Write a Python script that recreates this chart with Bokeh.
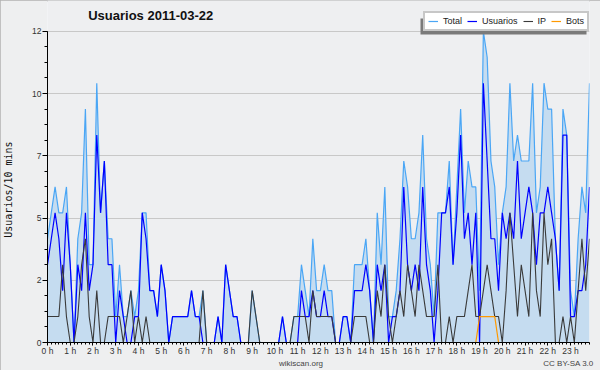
from bokeh.plotting import figure
from bokeh.models import (ColumnDataSource, FixedTicker, Label, Legend, LegendItem, Range1d,
                          LinearAxis, BoxAnnotation)
from bokeh.embed import file_html
from bokeh.resources import INLINE

# ---- data (one value per 10-minute slot, 144 slots) ----
hours = list(range(24))
hour_labels = [f"{h} h" for h in hours]

total = [
    4, 5, 6, 5, 5, 6,
    3, 0, 4, 5, 9, 3,
    3, 10, 5, 7, 4, 4,
    1, 3, 1, 1, 2, 1,
    2, 5, 5, 2, 2, 1,
    3, 2, 0, 1, 1, 1,
    1, 1, 2, 1, 1, 2,
    0, 0, 0, 1, 0, 3,
    2, 1, 1, 0, 0, 0,
    2, 1, 0, 0, 0, 0,
    0, 0, 1, 0, 0, 1,
    1, 3, 2, 1, 4, 2,
    2, 3, 2, 2, 0, 0,
    1, 1, 0, 3, 3, 3,
    4, 2, 0, 5, 3, 6,
    1, 1, 2, 4, 7, 6,
    4, 4, 5, 8, 4, 3,
    1, 5, 5, 5, 7, 3,
    6, 9, 5, 7, 6, 6,
    2, 12, 11, 7, 6, 3,
    5, 6, 10, 7, 8, 7,
    7, 7, 10, 5, 6, 10,
    9, 9, 4, 2, 9, 8,
    2, 1, 4, 6, 5, 10,
]
usuarios = [
    3, 4, 5, 4, 2, 5,
    3, 0, 3, 2, 5, 2,
    3, 8, 5, 7, 3, 3,
    0, 2, 1, 0, 0, 1,
    1, 5, 4, 2, 2, 1,
    3, 2, 0, 1, 1, 1,
    1, 1, 2, 1, 1, 0,
    0, 0, 0, 1, 0, 3,
    2, 1, 1, 0, 0, 0,
    0, 0, 0, 0, 0, 0,
    0, 0, 1, 0, 0, 0,
    0, 2, 1, 1, 2, 1,
    1, 2, 1, 1, 0, 0,
    1, 1, 0, 2, 2, 2,
    3, 2, 0, 3, 2, 3,
    0, 1, 1, 2, 6, 3,
    2, 3, 2, 6, 3, 2,
    0, 2, 5, 5, 6, 3,
    5, 8, 4, 5, 3, 5,
    0, 10, 7, 4, 4, 2,
    5, 4, 5, 4, 7, 4,
    5, 6, 5, 3, 5, 5,
    6, 5, 4, 2, 8, 8,
    1, 1, 2, 2, 3, 6,
]
ip = [
    1, 1, 1, 1, 3, 1,
    0, 0, 1, 3, 4, 1,
    0, 2, 0, 0, 1, 1,
    1, 1, 0, 1, 2, 0,
    1, 0, 1, 0, 0, 0,
    0, 0, 0, 0, 0, 0,
    0, 0, 0, 0, 0, 2,
    0, 0, 0, 0, 0, 0,
    0, 0, 0, 0, 0, 0,
    2, 1, 0, 0, 0, 0,
    0, 0, 0, 0, 0, 1,
    1, 1, 1, 0, 2, 1,
    1, 1, 1, 1, 0, 0,
    0, 0, 0, 1, 1, 1,
    1, 0, 0, 2, 1, 3,
    1, 0, 1, 2, 1, 3,
    2, 1, 3, 2, 1, 1,
    1, 3, 0, 0, 1, 0,
    1, 1, 1, 2, 3, 1,
    1, 2, 3, 2, 1, 1,
    0, 2, 5, 3, 1, 3,
    2, 1, 5, 2, 1, 5,
    3, 4, 0, 0, 1, 0,
    1, 0, 2, 4, 2, 4,
]
bots = [
    0, 0, 0, 0, 0, 0,
    0, 0, 0, 0, 0, 0,
    0, 0, 0, 0, 0, 0,
    0, 0, 0, 0, 0, 0,
    0, 0, 0, 0, 0, 0,
    0, 0, 0, 0, 0, 0,
    0, 0, 0, 0, 0, 0,
    0, 0, 0, 0, 0, 0,
    0, 0, 0, 0, 0, 0,
    0, 0, 0, 0, 0, 0,
    0, 0, 0, 0, 0, 0,
    0, 0, 0, 0, 0, 0,
    0, 0, 0, 0, 0, 0,
    0, 0, 0, 0, 0, 0,
    0, 0, 0, 0, 0, 0,
    0, 0, 0, 0, 0, 0,
    0, 0, 0, 0, 0, 0,
    0, 0, 0, 0, 0, 0,
    0, 0, 0, 0, 0, 0,
    1, 1, 1, 1, 1, 0,
    0, 0, 0, 0, 0, 0,
    0, 0, 0, 0, 0, 0,
    0, 0, 0, 0, 0, 0,
    0, 0, 0, 0, 0, 0,
]
y_ticks = [0, 2.4, 4.8, 7.2, 9.6, 12]
y_tick_labels = ["0", "2", "5", "7", "10", "12"]
footer_texts = ["wikiscan.org", "CC BY-SA 3.0"]

slots = [i / 6 for i in range(len(total))]
src = ColumnDataSource(dict(x=slots, total=total, usuarios=usuarios, ip=ip, bots=bots,
                            zero=[0] * len(total)))

FONT = "Liberation Sans"
Y_MAX = y_ticks[-1]
# frame reaches the top edge so the title and legend can sit inside it
Y_TOP = Y_MAX * 344 / 313
X_END = slots[-1]
PX_PER_H = 543 / X_END
NBSP = "\u00a0"

p = figure(width=600, height=370, output_backend="svg", toolbar_location=None, title=None,
           x_range=Range1d(0, X_END), y_range=Range1d(0, Y_TOP),
           min_border_left=46, min_border_right=11, min_border_top=0, min_border_bottom=26,
           background_fill_color="#eeeff1", border_fill_color="#eeeff0",
           outline_line_color=None)
p.styles = {"outline": "2px solid #b2b2b2", "outline-offset": "-2px"}

# area under total and the lines
p.varea(x="x", y1="zero", y2="total", source=src, fill_color="#c5dcf0")
r_total = p.line("x", "total", source=src, line_color="#4aa6f5", line_width=1.2)
r_user = p.line("x", "usuarios", source=src, line_color="#0000ff", line_width=1.2)
r_ip = p.line("x", "ip", source=src, line_color="#3a3a3a", line_width=1.1)
r_bots = p.line("x", "bots", source=src, line_color="#ff9900", line_width=1.2)

# axes
xa = p.xaxis[0]
xa.ticker = FixedTicker(ticks=hours, minor_ticks=slots)
xa.major_label_overrides = {h: lab for h, lab in zip(hours, hour_labels)}
xa.major_tick_out = 3
xa.major_tick_in = 0
xa.minor_tick_out = 2
xa.minor_tick_in = 0
xa.major_label_standoff = 0
xa.major_label_text_font = FONT
xa.major_label_text_font_size = "8.5px"
xa.major_label_text_color = "#333333"
xa.axis_line_color = "black"

ya = p.yaxis[0]
ya.bounds = (0, Y_MAX)
ya.ticker = FixedTicker(ticks=y_ticks, minor_ticks=[k * 0.6 for k in range(21)])
ya.major_label_overrides = dict(zip(y_ticks, y_tick_labels))
ya.major_tick_out = 5
ya.major_tick_in = 0
ya.minor_tick_out = 3
ya.minor_tick_in = 0
ya.major_label_standoff = 1
ya.major_label_text_font = FONT
ya.major_label_text_font_size = "8.5px"
ya.major_label_text_color = "#333333"
ya.axis_line_color = "black"
# trailing no-break spaces shift the centred label down to the middle of the 0..12 span
ya.axis_label = "Usuarios/10 mins" + NBSP * 6
ya.axis_label_text_font = "DejaVu Sans Mono"
ya.axis_label_text_font_size = "10px"
ya.axis_label_text_font_style = "normal"
ya.axis_label_text_color = "#111111"
ya.axis_label_standoff = 15

p.xgrid.visible = False
p.ygrid.grid_line_color = "#c8c8c8"

# footer row: a bare helper axis whose two tick labels are the footer texts
footer_pos = [(300 - 46) / PX_PER_H, (568 - 46) / PX_PER_H]
fa = LinearAxis(ticker=FixedTicker(ticks=footer_pos, minor_ticks=[]),
                major_label_overrides=dict(zip(footer_pos, footer_texts)),
                axis_line_color=None, major_tick_line_color=None, minor_tick_line_color=None,
                major_tick_out=0, major_tick_in=0, minor_tick_out=0, minor_tick_in=0,
                major_label_standoff=0, major_label_text_font=FONT,
                major_label_text_font_size="8px", major_label_text_color="#444444")
p.add_layout(fa, "below")

# title inside the (extended) frame
p.add_layout(Label(x=105, y=327, x_units="screen", y_units="screen",
                   text="Usuarios  2011-03-22", text_font=FONT, text_font_style="bold",
                   text_font_size="13px", text_align="center", text_baseline="middle",
                   text_color="#111111"))

# legend with a drop shadow
LEG_X, LEG_Y, LEG_W, LEG_H = 376, 311, 166, 16
p.add_layout(BoxAnnotation(left=LEG_X - 3, right=LEG_X + LEG_W - 3,
                           bottom=LEG_Y - 3, top=LEG_Y + LEG_H - 3,
                           left_units="screen", right_units="screen",
                           bottom_units="screen", top_units="screen",
                           fill_color="#7a7a7a", fill_alpha=1, line_color=None))
legend = Legend(items=[LegendItem(label="Total", renderers=[r_total]),
                       LegendItem(label="Usuarios", renderers=[r_user]),
                       LegendItem(label="IP", renderers=[r_ip]),
                       LegendItem(label="Bots", renderers=[r_bots])],
                orientation="horizontal", location=(LEG_X, LEG_Y),
                label_text_font=FONT, label_text_font_size="9px", label_text_color="#222222",
                glyph_width=10, glyph_height=10, label_height=10, label_width=8,
                label_standoff=5, spacing=5, padding=3, margin=0,
                border_line_color="#8f8f8f", border_line_width=2,
                background_fill_color="white", background_fill_alpha=1)
p.add_layout(legend)

open("out.html", "w").write(file_html(p, INLINE))
